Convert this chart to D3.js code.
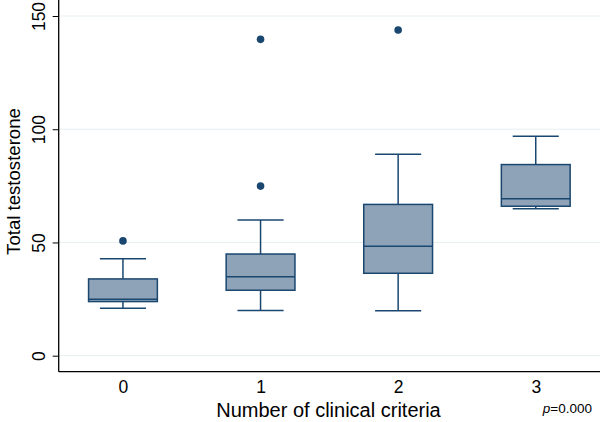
<!DOCTYPE html>
<html><head><meta charset="utf-8">
<script src="https://cdn.jsdelivr.net/npm/d3@7"></script>
<style>body{margin:0;background:#fff;}svg{display:block;font-family:"Liberation Sans",Arial,sans-serif;}</style>
</head><body>
<script>
const categories = ["0", "1", "2", "3"];
const q1 = [23.9, 28.9, 36.4, 66.0];
const medians = [24.9, 34.9, 48.3, 69.3];
const q3 = [33.9, 44.9, 66.8, 84.4];
const whiskerLow = [20.9, 20.0, 19.9, 64.9];
const whiskerHigh = [42.8, 59.9, 88.9, 96.9];
const outlierCategory = ["0", "1", "1", "2"];
const outlierValues = [50.7, 74.9, 139.7, 143.8];
const yTicks = [0, 50, 100, 150];

(function () {
const W = 600, H = 422;
const svg = d3.select("body").append("svg").attr("width", W).attr("height", H);
const mLeft = 58.7, mRight = 600, mTop = 0, mBottom = 371.7;
const y = d3.scaleLinear().domain([0, 150]).range([355.7, 16]);
const x = d3.scalePoint().domain(categories).range([mLeft, mRight]).padding(0.467);
const step = x.step();
const boxW = step * 0.5, capW = step * 0.335;
const navy = "#1a476f", fill = "#8fa3b8";

// gridlines
svg.append("g").selectAll("line").data(yTicks).join("line")
  .attr("x1", mLeft).attr("x2", mRight)
  .attr("y1", d => y(d)).attr("y2", d => y(d))
  .attr("stroke", "#e6eff0").attr("stroke-width", 1);

// y axis
const yAxis = svg.append("g").attr("transform", `translate(${mLeft},0)`)
  .call(d3.axisLeft(y).tickValues(yTicks).tickSize(6).tickPadding(0).tickFormat(d3.format("d")));
yAxis.select(".domain").remove();
yAxis.selectAll(".tick line").attr("stroke", "#000").attr("stroke-width", 1);
yAxis.selectAll(".tick text").attr("transform", "rotate(-90)")
  .attr("x", 0).attr("y", -14).attr("dy", 0).attr("text-anchor", "middle")
  .attr("font-size", 17.5).attr("fill", "#000");
svg.append("line").attr("x1", mLeft).attr("x2", mLeft).attr("y1", mTop).attr("y2", mBottom)
  .attr("stroke", "#000").attr("stroke-width", 1.3);

// x axis
const xAxis = svg.append("g").attr("transform", `translate(0,${mBottom})`)
  .call(d3.axisBottom(x).tickSize(0).tickPadding(0));
xAxis.select(".domain").remove();
xAxis.selectAll(".tick text").attr("y", 21).attr("dy", 0).attr("font-size", 17.5).attr("fill", "#000");
svg.append("line").attr("x1", mLeft).attr("x2", mRight).attr("y1", mBottom).attr("y2", mBottom)
  .attr("stroke", "#000").attr("stroke-width", 1.3);

// boxes
const g = svg.append("g");
categories.forEach((c, i) => {
  const cx = x(c);
  g.append("line").attr("x1", cx).attr("x2", cx).attr("y1", y(q3[i])).attr("y2", y(whiskerHigh[i]))
    .attr("stroke", navy).attr("stroke-width", 1.5);
  g.append("line").attr("x1", cx).attr("x2", cx).attr("y1", y(q1[i])).attr("y2", y(whiskerLow[i]))
    .attr("stroke", navy).attr("stroke-width", 1.5);
  g.append("line").attr("x1", cx - capW / 2).attr("x2", cx + capW / 2).attr("y1", y(whiskerHigh[i])).attr("y2", y(whiskerHigh[i]))
    .attr("stroke", navy).attr("stroke-width", 1.5);
  g.append("line").attr("x1", cx - capW / 2).attr("x2", cx + capW / 2).attr("y1", y(whiskerLow[i])).attr("y2", y(whiskerLow[i]))
    .attr("stroke", navy).attr("stroke-width", 1.5);
  g.append("rect").attr("x", cx - boxW / 2).attr("width", boxW)
    .attr("y", y(q3[i])).attr("height", y(q1[i]) - y(q3[i]))
    .attr("fill", fill).attr("stroke", navy).attr("stroke-width", 1.5);
  g.append("line").attr("x1", cx - boxW / 2).attr("x2", cx + boxW / 2).attr("y1", y(medians[i])).attr("y2", y(medians[i]))
    .attr("stroke", navy).attr("stroke-width", 1.5);
});

// outliers
svg.append("g").selectAll("circle").data(outlierValues).join("circle")
  .attr("cx", (d, i) => x(outlierCategory[i])).attr("cy", d => y(d)).attr("r", 3.8).attr("fill", navy);

// titles
svg.append("text").attr("transform", `translate(20,181.5) rotate(-90)`)
  .attr("text-anchor", "middle").attr("font-size", 18.6).attr("fill", "#000").text("Total testosterone");
svg.append("text").attr("x", 328.5).attr("y", 416.5)
  .attr("text-anchor", "middle").attr("font-size", 20).attr("fill", "#000").text("Number of clinical criteria");
const pt = svg.append("text").attr("x", 592).attr("y", 413).attr("text-anchor", "end").attr("font-size", 13.5).attr("fill", "#000");
pt.append("tspan").attr("font-style", "italic").text("p");
pt.append("tspan").text("=0.000");
})();
</script>
</body></html>
